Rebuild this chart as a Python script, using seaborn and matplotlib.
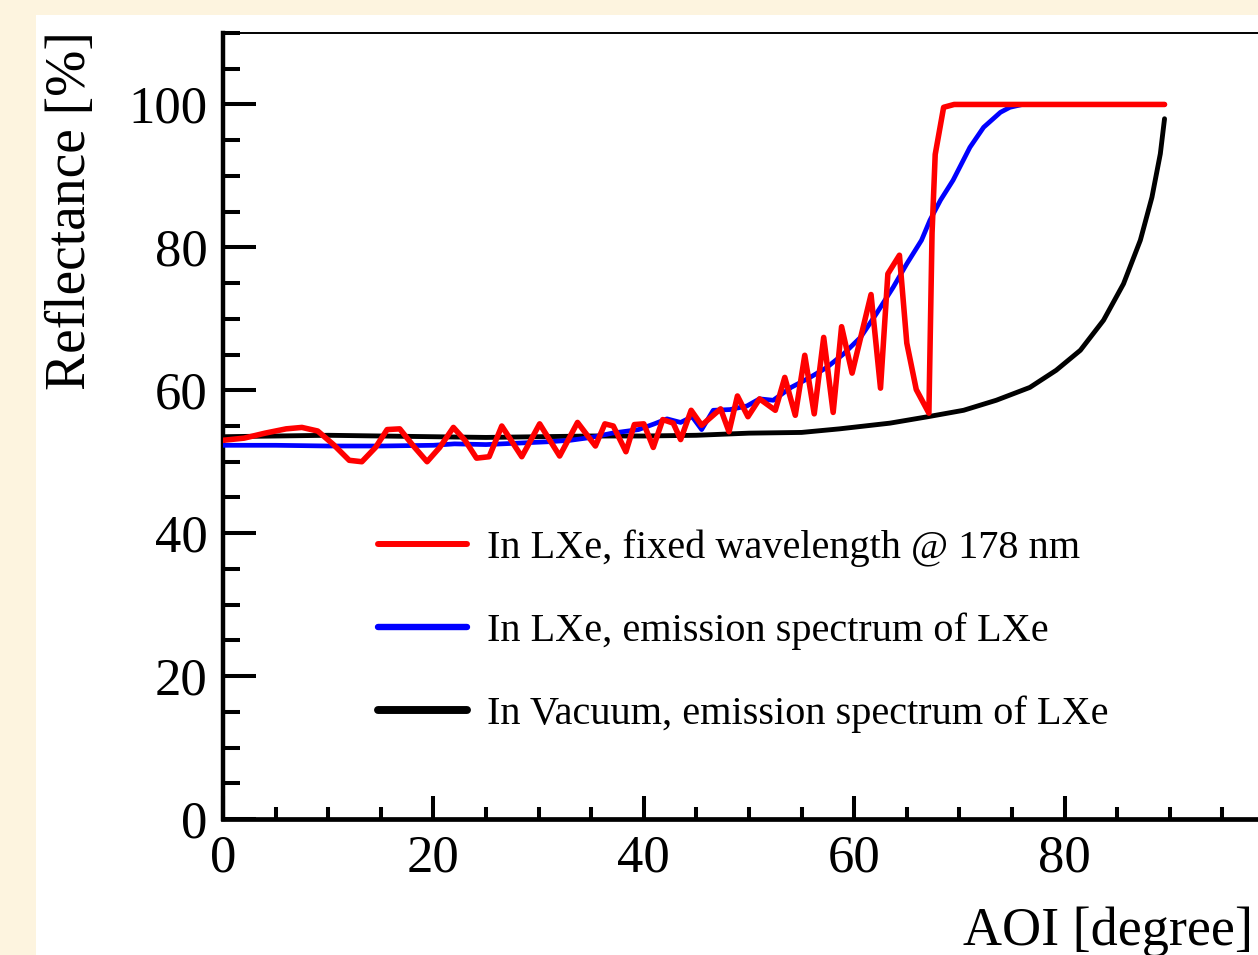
import matplotlib
matplotlib.use("Agg")
import matplotlib.pyplot as plt
from matplotlib.patches import Rectangle
from matplotlib.ticker import MultipleLocator
import pandas as pd
import seaborn as sns

# Reflectance [%] versus angle of incidence [degree]
aoi_fixed = [0, 2, 4, 6, 7.5, 9, 10.5, 12, 13.2, 14.5,
             15.6, 16.8, 18.1, 19.4, 20.6, 21.9, 23.0, 24.1, 25.3, 26.5,
             28.4, 30.1, 32.0, 33.7, 35.4, 36.3, 37.1, 38.3, 39.1, 40.0,
             40.9, 41.8, 42.8, 43.5, 44.5, 45.5, 47.3, 48.1, 48.9, 49.9,
             51.0, 52.5, 53.4, 54.4, 55.3, 56.2, 57.1, 58.0, 58.8, 59.8,
             61.6, 62.5, 63.2, 64.3, 65.0, 65.9, 67.1, 67.4, 67.7, 68.5,
             69.5, 75, 80, 85, 89.5]
refl_fixed = [53.0, 53.3, 54.0, 54.6, 54.8, 54.3, 52.4, 50.2, 50.0, 52.0,
              54.5, 54.6, 52.2, 50.0, 52.0, 54.8, 53.0, 50.5, 50.7, 55.0,
              50.7, 55.3, 50.8, 55.5, 52.2, 55.3, 55.0, 51.4, 55.2, 55.3,
              52.0, 55.9, 55.4, 53.1, 57.2, 55.1, 57.4, 54.2, 59.2, 56.3,
              58.8, 57.2, 61.8, 56.5, 64.9, 56.7, 67.4, 56.9, 68.9, 62.4,
              73.4, 60.3, 76.3, 78.9, 66.6, 60.1, 56.8, 82.0, 93.0, 99.6,
              100.0, 100.0, 100.0, 100.0, 100.0]

aoi_lxe = [0, 5, 10, 15, 20, 22, 25, 28, 31, 33,
           35, 37, 39.5, 41, 42.2, 43.5, 44.6, 45.5, 46.6, 48.2,
           49.8, 51.0, 52.3, 54.0, 55.8, 57.4, 59.0, 60.6, 62.1, 63.7,
           65.0, 66.4, 67.2, 68.2, 69.4, 71.0, 72.3, 73.9, 74.8, 76.0,
           80, 85, 89.5]
refl_lxe = [52.3, 52.3, 52.2, 52.2, 52.3, 52.5, 52.4, 52.6, 52.8, 53.0,
            53.4, 54.0, 54.5, 55.3, 56.0, 55.5, 56.3, 54.5, 57.2, 57.3,
            57.8, 58.8, 58.6, 60.4, 61.8, 63.2, 65.1, 67.4, 70.7, 74.4,
            77.7, 81.0, 83.8, 86.6, 89.4, 94.0, 96.8, 98.9, 99.6, 100.0,
            100.0, 100.0, 100.0]

aoi_vac = [0, 5, 10, 15, 20, 25, 30, 35, 40, 45,
           50, 55, 58.6, 63.4, 67.0, 70.4, 73.5, 76.7, 79.2, 81.5,
           83.7, 85.6, 87.2, 88.3, 89.1, 89.5]
refl_vac = [53.5, 53.6, 53.7, 53.6, 53.5, 53.4, 53.5, 53.6, 53.6, 53.7,
            54.0, 54.1, 54.6, 55.4, 56.3, 57.2, 58.6, 60.4, 62.8, 65.6,
            69.8, 74.9, 81.0, 87.0, 93.1, 98.0]

labels = ["In LXe, fixed wavelength @ 178 nm",
          "In LXe, emission spectrum of LXe",
          "In Vacuum, emission spectrum of LXe"]
x_ticks = [0, 20, 40, 60, 80]
y_ticks = [0, 20, 40, 60, 80, 100]

sns.set_theme(style="ticks")
plt.rcParams["font.family"] = ["Liberation Serif", "DejaVu Serif"]

W, H = 1258, 955
fig = plt.figure(figsize=(W / 100, H / 100), dpi=100)
fig.patch.set_facecolor("#fdf4df")
fig.add_artist(Rectangle((36 / W, 0), 1, (H - 15) / H, transform=fig.transFigure,
                         facecolor="white", edgecolor="none", zorder=-5))

ax = fig.add_axes([223 / W, (H - 819) / H, 1052 / W, (819 - 33) / H])
ax.set_facecolor("white")

series = [
    (aoi_fixed, refl_fixed, labels[0], "#ff0000", 4.0, 4),
    (aoi_lxe, refl_lxe, labels[1], "#0000ff", 3.4, 3),
    (aoi_vac, refl_vac, labels[2], "#000000", 3.5, 2),
]
for xs, ys, lab, col, lw, z in series:
    df = pd.DataFrame({"AOI": xs, "Reflectance": ys})
    sns.lineplot(data=df, x="AOI", y="Reflectance", ax=ax, color=col,
                 linewidth=lw, label=lab, estimator=None, sort=False, zorder=z)

ax.set_xlim(0, 100)
ax.set_ylim(0, 110)
ax.set_xticks(x_ticks)
ax.set_yticks(y_ticks)
ax.xaxis.set_minor_locator(MultipleLocator(5))
ax.yaxis.set_minor_locator(MultipleLocator(5))
ax.set_xlabel("")
ax.set_ylabel("")

ax.tick_params(axis="both", which="both", direction="in", top=False, right=False,
               width=2.9, color="black", labelcolor="black")
ax.tick_params(axis="x", which="major", length=16.5, pad=11, labelsize=38)
ax.tick_params(axis="x", which="minor", length=8.5)
ax.tick_params(axis="y", which="major", length=23.5, pad=11, labelsize=38)
ax.tick_params(axis="y", which="minor", length=12)

for side in ["left", "bottom", "top", "right"]:
    ax.spines[side].set_color("black")
ax.spines["left"].set_linewidth(3.2)
ax.spines["bottom"].set_linewidth(3.4)
ax.spines["top"].set_linewidth(1.4)
ax.spines["right"].set_linewidth(1.4)

fig.text(71 / W, (H - 31) / H, "Reflectance [%]", rotation=90,
         ha="center", va="top", fontsize=40, color="black")
fig.text(1253 / W, (H - 945) / H, "AOI [degree]", ha="right", va="baseline",
         fontsize=39, color="black")

leg = ax.legend(loc="center left", bbox_to_anchor=(378 / W, (H - 631) / H),
                bbox_transform=fig.transFigure, frameon=False, fontsize=29,
                handlelength=2.2, handletextpad=0.5, labelspacing=1.13,
                borderpad=0, borderaxespad=0)
for line, lw in zip(leg.get_lines(), [4.3, 4.6, 5.7]):
    line.set_linewidth(lw)
for t in leg.get_texts():
    t.set_color("black")

fig.savefig("out.png", dpi=100, facecolor=fig.get_facecolor())
